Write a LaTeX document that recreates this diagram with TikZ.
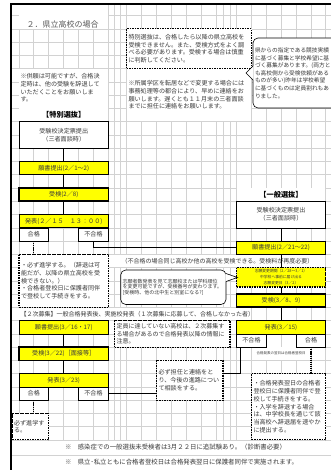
\documentclass[tikz,border=0pt]{standalone}
\usepackage{fontspec}
\setmainfont{Noto Sans CJK JP}
\usetikzlibrary{calc}
\definecolor{xlyellow}{HTML}{FFFF00}
\definecolor{gridgray}{HTML}{D2D2D2}
\definecolor{txtgray}{HTML}{3A3A3A}
\newcommand{\fsn}{\fontsize{6.1}{7.7}\selectfont}
\newcommand{\mybox}[7]{%
  \pgfmathsetmacro{\mybw}{#5-#3}%
  \pgfmathsetmacro{\mybh}{#6-#4}%
  \pgfmathsetmacro{\mytw}{#5-#3-4}%
  \node[#1, anchor=north west, minimum width=\mybw pt, minimum height=\mybh pt,
        text width=\mytw pt, inner xsep=2pt, inner ysep=0pt, outer sep=0pt] (#2) at (#3,#4) {#7};}
\begin{document}
\begin{tikzpicture}[x=1pt, y=-1pt,
  every node/.style={text=txtgray, inner sep=0pt, outer sep=0pt},
  gridln/.style={draw=gridgray, line width=0.5pt},
  plainbox/.style={draw=black, fill=white, line width=0.6pt, align=center, font=\fsn},
  ybox/.style={draw=black, fill=xlyellow, line width=0.8pt, align=center, font=\fsn},
  ythick/.style={draw=black, fill=xlyellow, line width=1.8pt, align=center, font=\fsn},
  ydash/.style={draw=black, fill=xlyellow, line width=1.1pt, dash pattern=on 1.6pt off 0.9pt, align=center, font=\fontsize{3.8}{6.2}\selectfont},
  notebox/.style={draw=black, fill=white, line width=1.1pt, dash pattern=on 1.6pt off 0.9pt, align=left, font=\fsn},
  cellbox/.style={draw=black, fill=white, line width=0.6pt, align=center, font=\fsn},
  callout/.style={draw=black, fill=white, line width=0.6pt, rounded corners=5pt, align=left},
  link/.style={draw=black, line width=0.7pt},
  dotlink/.style={draw=black, line width=1.3pt, dash pattern=on 1.2pt off 0.9pt},
  plaintext/.style={align=left, font=\fsn},
  header/.style={font=\fontsize{7.2}{8}\selectfont\bfseries, text=black}]
\useasboundingbox (0,0) rectangle (331,470);
\clip (0,0) rectangle (331,470);
\fill[white] (0,0) rectangle (331,470);

% grid
\foreach \gx in {19,33.5,48.5,63.5,78.5,93.5,108.5,114.5,120.5,126.5,141.5,156.5,171.5,186.5,201.5,216.5,223,230,236.5,251.5,266.5,281.5,296.5,311.5,325.5}
  {\draw[gridln] (\gx,5.5) -- (\gx,439.9);}
\foreach \k [evaluate=\k as \yy using 121.7+13.26*\k] in {-8,...,24}
  {\draw[gridln] (11,\yy) -- (331,\yy);}
% merged areas
\fill[white] (19.3,5.5) rectangle (108.2,28.6);
\fill[white] (19.3,69) rectangle (108.2,121.4);
\fill[white] (126.8,69) rectangle (251.2,121.4);
\fill[white] (236.8,188.3) rectangle (325.2,201);
\fill[white] (108.8,254.6) rectangle (325.2,267.3);
\fill[white] (19.3,307.6) rectangle (251.2,320.3);
\fill[white] (251.8,347.4) rectangle (311.2,360.1);
\fill[white] (11,440.2) rectangle (331,470);
\draw[gridln] (11,439.9) -- (331,439.9);
\draw[gridln] (11,455) -- (331,455);
% sheet border
\draw[line width=2pt] (10,4.5) -- (331,4.5);
\draw[line width=2pt] (11,4) -- (11,470);

% title and notes
\node[anchor=west, font=\fontsize{8}{9}\selectfont, text=black!65] (title) at (26.5,24) {２．県立高校の場合};
\mybox{notebox}{topnote}{126.5}{28.9}{251.5}{68.7}{特別選抜は、合格したら以降の県立高校を\\受検できません。また、受検方式をよく調\\べる必要があります。受検する場合は慎重\\に判断してください。}
\mybox{callout, font=\fontsize{5.7}{7.6}\selectfont}{cb1}{253}{38}{353}{108}{県からの指定である競技実績\\に基づく募集と学校希望に基\\づく募集があります。(両方と\\も高校側から受検依頼がある\\ものが多い)昨年は学校希望\\に基づくものは定員割れもあ\\りました。}
\fill[white] (253.7,66) -- (246,73) -- (253.7,80) -- cycle;
\draw[line width=0.6pt] (253,66) -- (246,73) -- (253,80);
\node[plaintext, anchor=north west] (note1) at (20.5,73.5) {※併願は可能ですが、合格決\\定時は、他の受験を辞退して\\いただくことをお願いしま\\す。};
\node[plaintext, anchor=north west] (note2) at (128.5,80.5) {※所属学区を転居などで変更する場合には\\事務処理等の都合により、早めに連絡をお\\願いします。遅くとも１１月末の三者面談\\までに担任に連絡をお願いします。};

% special selection
\node[header] (h1) at (63.75,115) {【特別選抜】};
\mybox{plainbox}{tk1}{19}{121.7}{108.5}{148.2}{受験校決定票提出\\（三者面談時）}
\mybox{ybox}{tk2}{19}{161.5}{108.5}{174.7}{願書提出(2／1～2)}
\mybox{ythick}{tk3}{19}{188}{108.5}{201.3}{受検(2／8)}
\mybox{ybox}{tk4}{19}{214.5}{108.5}{227.8}{発表(２／１５　１３：００)}
\mybox{cellbox}{gk1}{19}{227.8}{48.5}{241}{合格}
\mybox{cellbox}{fg1}{78.5}{227.8}{108.5}{241}{不合格}
\mybox{notebox}{nb1}{19}{254.3}{108.5}{307.3}{・必ず進学する。（辞退は可\\能だが、以降の県立高校を受\\検できない。）\\・合格者登校日に保護者同伴\\で登校して手続きをする。}

% general selection
\node[header] (h2) at (281,194.6) {【一般選抜】};
\mybox{plainbox}{ip1}{236.5}{201.3}{325.5}{227.8}{受験校決定票提出\\（三者面談時）}
\mybox{ybox}{ip2}{236.5}{241}{325.5}{254.3}{願書提出(2／21～22)}
\node[anchor=west, font=\fontsize{6}{7}\selectfont] (t1) at (121.5,261) {（不合格の場合同じ高校か他の高校を受検できる。受検料が再度必要）};
\mybox{ydash}{ip3}{236.5}{267.6}{325.5}{287}{志願変更期間（2／28～3／1）\\中学校へ事前に届け出る\\志願変更日（3／2）}
\mybox{callout, font=\fontsize{5}{5.9}\selectfont}{cb2}{120.7}{270}{226}{304.5}{志願者数発表を見て志願校または学科順位\\を変更可能ですが、受検番号が変わります。\\{[}受検時、他の北中生と別室になる?{]}}
\fill[white] (225.3,273.5) -- (237.5,277.5) -- (225.3,281.5) -- cycle;
\draw[line width=0.6pt] (226,273.5) -- (237.5,277.5) -- (226,281.5);
\mybox{ythick}{ip4}{236.5}{294.1}{325.5}{307.3}{受検(3／8、9)}
\mybox{ybox}{ip5}{236.5}{320.6}{325.5}{333.9}{発表(3／15)}
\mybox{cellbox}{fg3}{236.5}{333.9}{266.5}{347.1}{不合格}
\mybox{cellbox}{gk3}{296.5}{333.9}{325.5}{347.1}{合格}
\node[font=\fontsize{3.5}{4}\selectfont] (t3) at (281,353.5) {合格発表の翌日は合格者登校日};
\mybox{notebox}{nb4}{251.5}{373.6}{325.5}{439.9}{・合格発表翌日の合格者\\登校日に保護者同伴で登\\校して手続きをする。\\・入学を辞退する場合\\は、中学校長を通じて該\\当高校へ辞退届を速やか\\に提出する。}

% second recruitment
\node[anchor=west, font=\fontsize{6}{7}\selectfont] (t2) at (20.5,314) {【２次募集】一般合格発表後、実施校発表（１次募集に応募して、合格しなかった者）};
\mybox{ybox}{tn1}{19}{320.6}{108.5}{333.9}{願書提出(3／16・17)}
\mybox{notebox, font=\fontsize{6}{7.6}\selectfont}{nb2}{114.5}{320.6}{230}{347.1}{定員に達していない高校は、２次募集す\\る場合があるので合格発表以降の情報に\\注意。}
\mybox{ythick}{tn2}{19}{347.1}{108.5}{360.4}{受検(3／22)［面接等］}
\mybox{ybox}{tn3}{19}{373.6}{108.5}{386.9}{発表(3／23)}
\mybox{cellbox}{gk2}{19}{386.9}{48.5}{400.2}{合格}
\mybox{cellbox}{fg2}{78.5}{386.9}{108.5}{400.2}{不合格}
\mybox{notebox}{nb3}{12}{413.4}{48.5}{439.9}{必ず進学す\\る。}
\mybox{notebox}{nb5}{156.5}{360.4}{223}{400.2}{必ず担任と連絡をと\\り、今後の進路につい\\て相談をする。}

% bottom notes
\node[anchor=west, font=\fontsize{6.4}{7}\selectfont] (b1) at (65,447.5) {※　感染症での一般選抜未受検者は3月２２日に追試験あり。（診断書必要）};
\node[anchor=west, font=\fontsize{6.4}{7}\selectfont] (b2) at (65,462.5) {※　県立･私立ともに合格者登校日は合格発表翌日に保護者同伴で実施されます。};

% connectors
\draw[link] (tk1.south) -- (tk2.north);
\draw[link] (tk2.south) -- (tk3.north);
\draw[link] (tk3.south) -- (tk4.north);
\draw[dotlink] (gk1.south) -- (nb1.north -| gk1.south);
\draw[link] (fg1.south) |- (ip2.west);
\draw[link] (ip1.south) -- (ip2.north);
\draw[link] (ip2.south) -- (ip3.north);
\draw[link] (ip3.south) -- (ip4.north);
\draw[link] (ip4.south) -- (ip5.north);
\draw[link] (tn1.south) -- (tn2.north);
\draw[link] (tn2.south) -- (tn3.north);
\draw[dotlink] (gk2.south) -- (nb3.north -| gk2.south);
\draw[link] (fg2.east) -- (nb5.west |- fg2.east);
\coordinate (bend) at (240,373.6);
\draw[link] (fg3.south -| bend) -- (bend) -- (bend -| nb5.east);
\draw[dotlink] (gk3.south) -- (nb4.north -| gk3.south);
\end{tikzpicture}
\end{document}
